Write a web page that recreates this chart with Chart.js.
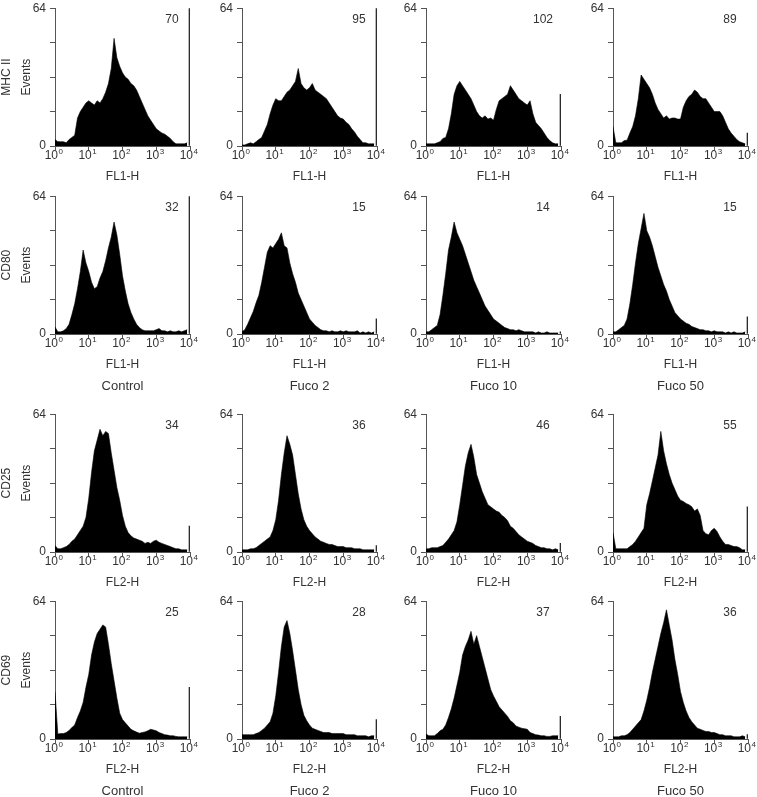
<!DOCTYPE html>
<html>
<head>
<meta charset="utf-8">
<script src="https://cdn.jsdelivr.net/npm/chart.js@4.4.1/dist/chart.umd.min.js"></script>
<style>
  html, body { margin: 0; padding: 0; background: #fff; }
  #wrap { position: relative; width: 757px; height: 797px; overflow: hidden; }
  #wrap canvas { position: absolute; }
</style>
</head>
<body>
<div id="wrap"></div>
<script>
const markers = ['MHC II', 'CD80', 'CD25', 'CD69'];
const channels = ['FL1-H', 'FL1-H', 'FL2-H', 'FL2-H'];
const groups = ['Control', 'Fuco 2', 'Fuco 10', 'Fuco 50'];
const meanValues = [
  [70, 95, 102, 89],
  [32, 15, 14, 15],
  [34, 36, 46, 55],
  [25, 28, 37, 36]
];
const yTicks = [0, 16, 32, 48, 64];
const xDecades = [0, 1, 2, 3, 4];
const binsPerDecade = 12;

// events per bin, 12 bins per decade from 10^0; last value is the pile-up at 10^4
const mhcControl = [3,2,2,2,1.5,3,4,5,13,16,18,20,
  21,20,19,21,20,22,25,29,36,50,41,37,
  34,32,31,29,28,26,23,20,17,14,12,10,
  8,7,6,5.5,4.5,3.5,2,1,1,1,1,1.5, 64];
const mhcFuco2 = [0.5,0.5,1,1.5,1,2,3,4,7,10,15,19,
  22,21,21,23,25,26,28,30,36,29,27,26,
  27,29,26,25,24,23,22,20,18,16,14,13,
  12.5,11,10,8,6.5,4.5,3,1.5,1.5,1,1,1, 64];
const mhcFuco10 = [1,1,1,1,1.5,2,3.5,4,8,15,24,28,
  30,28,26,24,22,19,16,14,13,14,12.5,13,
  12,17,21,22,23,24,28,26,24,22,21,20,
  19,21,15,11,9.5,8,6,4,2.5,1.5,1,1, 24];
const mhcFuco50 = [9,1.5,1.5,1.5,2.5,2.7,6,9,14,22,33,31,
  29,27,24,20,17,15,13,14,12.5,13,13,12.5,
  12.5,18,21,23,24,26,25,23,22,22,20,18,
  16,16,16,14,11,8,6,4.5,3,2,1.5,1, 6];

const cd80Control = [3.3,1,1,1.5,2.5,4.5,9,14,21,29,39,33,
  29,24,21,22,26,29,34,40,45,52,46,37,
  27,20,14,10,7,4.5,3,2,1.5,1.5,1.5,1.5,
  2,2.5,1.5,1.5,1,1.5,1,1,1.5,1,1.5,2, 64];
const cd80Fuco2 = [1,2,4.5,7.5,10.5,14.5,18,24,31,38,41,40,
  42,44,47,41,40,33,28,24,19,16,13,10,
  7,5.5,4,3,2,1.5,1.5,1,1.5,1,1,1.5,
  1,1.5,1,1,1,1.5,0.5,1,0.5,1,0.5,1, 7];
const cd80Fuco10 = [1,1,2,3,4,9,18,28,39,45,52,47,
  44,41,37,33,29,25,22,19,16,13,11,9,
  7,6,5,4,3,2.5,2,2,1.5,2,1.5,1,
  1,1,1,0.5,1,0.5,0.5,1,0.5,0.5,0.5,0.5, 1];
const cd80Fuco50 = [1,1,2,3,4,7,14,23,33,42,49,56,
  48,45,41,36,31,27,23,20,16,13,10,8.5,
  7,6,5,4.5,3.5,3,2.5,2,2,1.5,1.5,1,
  1.5,1,1,1,0.5,1,0.5,1,0.5,0.5,0.5,1, 8];

const cd25Control = [3,1.5,1.5,2,2.5,3.5,5,6,8,10,12,16,
  25,37,47,52,57,54,56,55,46,38,30,24,
  17,12,9,7.5,6.5,6,5.5,5,4,4.5,4,5,
  5.5,4.5,4,3.5,3,2.5,2,1.5,1.5,1,1,1, 12];
const cd25Fuco2 = [1,1,1,1.5,1.5,2,3,4,5,6,7,10,
  15,24,36,46,54,50,45,36,27,20,15,12,
  10,8.5,7,6,5,4.5,4,3.5,3.5,3,2.5,2.5,
  2.5,2,2,2,1.5,1.5,1.5,1,1,1,1,1, 3];
const cd25Fuco10 = [1.5,1.5,2,2,2,2.5,3,4.5,6,8,10,14,
  22,31,40,46,50,44,36,32,28,25,22,21,
  20,19,18.5,17,16,14.5,12,11,9.5,8,7,6,
  5,4.5,4,3,2.5,2,2,1.5,1.5,1,1.5,1, 4];
const cd25Fuco50 = [9,1.5,1.5,1.5,1.5,1.5,2.5,3.5,5,7,9,11,
  22,27,33,39,45,56,47,41,36,32,29,26,
  24,23.5,22.5,22,21,19,20,17,10,8.5,8,10,
  11,9.5,7,5,3.5,3.5,3,2.5,2.5,2,1,1, 21];

const cd69Control = [22,2.3,2.5,2.5,3,4,5.3,6.5,10,13,17,24,
  30,39,45,49,51,53,52,44,35,27,19,12,
  9,7.5,6,4.5,3.8,3.2,2.7,3,3.3,3.8,4.5,4.2,
  3.8,3,2.5,2,1.8,1.5,1.5,1.2,1,1,1,1, 24];
const cd69Fuco2 = [2,2,2,2,2,2.5,3,4,5,6.5,8,12,
  20,31,43,52,55,49,41,32,23,16,11,8.5,
  6.5,5,4.5,4,3.5,3,3,3,2.5,2.5,2.5,2.5,
  2.5,2,2,2,2,1.5,1.5,1.5,1.5,1,1.5,1.5, 9];
const cd69Fuco10 = [2.3,1.5,1.5,1.5,2.5,3.8,4.5,6.5,10,14,19,25,
  31,39,43,46,50,44,48,43,38,33,28,23,
  20,17.5,15,13.5,12,10.5,8.5,7.5,6,5.5,5,4.8,
  4.5,3,2.5,2,1.8,1.5,1.5,1.2,1.2,1.5,1.5,1.5, 10.5];
const cd69Fuco50 = [1,1,1,1.5,1.5,2,3,4.5,6,7.5,9,13,
  18,24,31,37,43,49,54,60,53,46,37,30,
  22,17,13,10,8,6.5,5,4.5,4,3.5,3.5,3,
  3,2.5,2,2,1.5,1.5,1.5,1,1,1,1.5,1, 2];

const histograms = [
  [mhcControl, mhcFuco2, mhcFuco10, mhcFuco50],
  [cd80Control, cd80Fuco2, cd80Fuco10, cd80Fuco50],
  [cd25Control, cd25Fuco2, cd25Fuco10, cd25Fuco50],
  [cd69Control, cd69Fuco2, cd69Fuco10, cd69Fuco50]
];

const FONT = '"Liberation Sans", Arial, Helvetica, sans-serif';
const TEXT = '#333';
const AXIS = '#555';
const colLeft = [55, 242, 426, 613];
const rowTop = [5, 193, 411, 598];
const PLOT_W = 135, PLOT_H = 141, PAD_TOP = 8, Y_AXIS_W = 55, PAD_RIGHT = 14;

Chart.defaults.font.family = FONT;
Chart.defaults.font.size = 12;
Chart.defaults.color = TEXT;

const panelText = {
  id: 'panelText',
  afterDraw(chart, args, o) {
    const { ctx, chartArea: a, scales } = chart;
    const cx = (a.left + a.right) / 2;
    ctx.save();
    ctx.fillStyle = TEXT;
    ctx.textBaseline = 'middle';
    ctx.textAlign = 'center';
    ctx.font = '12px ' + FONT;
    ctx.fillText(String(o.value), a.left + 117, a.top + 11);

    xDecades.forEach(d => {
      const x = scales.x.getPixelForValue(d);
      ctx.font = '12px ' + FONT;
      ctx.textAlign = 'right';
      ctx.fillText('10', x + 3, a.bottom + 10);
      ctx.font = '8px ' + FONT;
      ctx.textAlign = 'left';
      ctx.fillText(String(d), x + 3.5, a.bottom + 5.5);
    });

    ctx.textAlign = 'center';
    ctx.font = '12px ' + FONT;
    ctx.fillText(o.channel, cx, a.bottom + 31);
    if (o.group) {
      ctx.font = '13px ' + FONT;
      ctx.fillText(o.group, cx, a.bottom + 52);
    }
    if (o.marker) {
      const cy = (a.top + a.bottom) / 2;
      ctx.font = '12px ' + FONT;
      ctx.save();
      ctx.translate(a.left - 28, cy);
      ctx.rotate(-Math.PI / 2);
      ctx.fillText('Events', 0, 0);
      ctx.restore();
      ctx.save();
      ctx.translate(a.left - 48, cy);
      ctx.rotate(-Math.PI / 2);
      ctx.fillText(o.marker, 0, 0);
      ctx.restore();
    }
    ctx.restore();
  }
};

const wrap = document.getElementById('wrap');

histograms.forEach((row, r) => {
  row.forEach((values, c) => {
    const hasGroup = r === 1 || r === 3;
    const W = Y_AXIS_W + PLOT_W + PAD_RIGHT;
    const H = PAD_TOP + PLOT_H + (hasGroup ? 64 : 45);
    const canvas = document.createElement('canvas');
    canvas.width = W;
    canvas.height = H;
    canvas.style.left = (colLeft[c] - Y_AXIS_W) + 'px';
    canvas.style.top = (rowTop[r] - PAD_TOP) + 'px';
    wrap.appendChild(canvas);

    const bins = values.slice(0, -1);
    const pileUp = values[values.length - 1];
    const points = bins.map((v, i) => ({ x: i / binsPerDecade, y: v }));

    new Chart(canvas, {
      type: 'line',
      data: {
        datasets: [{
          data: points,
          fill: 'origin',
          tension: 0,
          backgroundColor: '#000',
          borderColor: 'rgba(0,0,0,0.6)',
          borderWidth: 1,
          pointRadius: 0
        }, {
          type: 'bar',
          data: [{ x: xDecades[xDecades.length - 1], y: pileUp }],
          backgroundColor: '#2b2b2b',
          barThickness: 2,
          borderWidth: 0
        }]
      },
      options: {
        responsive: false,
        animation: false,
        devicePixelRatio: 1,
        layout: { padding: { left: 0, top: PAD_TOP, right: PAD_RIGHT, bottom: 0 } },
        plugins: {
          legend: { display: false },
          tooltip: { enabled: false },
          panelText: {
            value: meanValues[r][c],
            channel: channels[r],
            group: hasGroup ? groups[c] : null,
            marker: c === 0 ? markers[r] : null
          }
        },
        scales: {
          x: {
            type: 'linear',
            min: 0,
            max: 4,
            offset: false,
            afterBuildTicks: s => { s.ticks = xDecades.map(v => ({ value: v })); },
            afterFit: s => { s.height = H - PAD_TOP - PLOT_H; },
            ticks: { display: false },
            grid: { offset: false, drawOnChartArea: false, drawTicks: true, tickLength: 4, color: AXIS },
            border: { display: true, color: AXIS, width: 1 }
          },
          y: {
            min: 0,
            max: 64,
            afterBuildTicks: s => { s.ticks = yTicks.map(v => ({ value: v })); },
            afterFit: s => { s.width = Y_AXIS_W; },
            ticks: {
              padding: 4,
              color: TEXT,
              font: { size: 12 },
              callback: v => (v === 0 || v === 64) ? String(v) : ''
            },
            grid: { drawOnChartArea: false, drawTicks: true, tickLength: 5, color: AXIS },
            border: { display: true, color: AXIS, width: 1 }
          }
        }
      },
      plugins: [panelText]
    });
  });
});
</script>
</body>
</html>
